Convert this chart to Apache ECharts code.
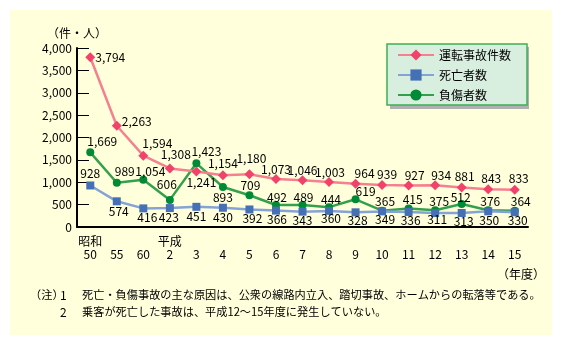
<!DOCTYPE html>
<html>
<head>
<meta charset="utf-8">
<script src="https://cdn.jsdelivr.net/npm/echarts@6/dist/echarts.min.js"></script>
<style>
html,body{margin:0;padding:0;background:#ffffff;}
#chart{width:562px;height:346px;}
</style>
</head>
<body>
<div id="chart"></div>
<script>
// ---- data ----
var xLabels = ['50','55','60','2','3','4','5','6','7','8','9','10','11','12','13','14','15'];
var eraLabels = ['昭和','','','平成','','','','','','','','','','','','',''];
var accidents = [3794,2263,1594,1308,1241,1154,1180,1073,1046,1003,964,939,927,934,881,843,833];
var deaths = [928,574,416,423,451,430,392,366,343,360,328,349,336,311,313,350,330];
var injuries = [1669,989,1054,606,1423,893,709,492,489,444,619,365,415,375,512,376,364];
var yTicks = {min:0, max:4000, interval:500};
var seriesNames = ['運転事故件数','死亡者数','負傷者数'];
var yName = '（件・人）';
var xName = '（年度）';
var note1 = '死亡・負傷事故の主な原因は、公衆の線路内立入、踏切事故、ホームからの転落等である。';
var note2 = '乗客が死亡した事故は、平成12～15年度に発生していない。';

// ---- label placement (style only) ----
var redPos = ['right','right','top','top','bottom','top','top','top','top','top','top','top','top','top','top','top','top'];
var redOff = [[0,0],[0,-4],[14,-1],[6,-3],[5,0],[0,-1],[2,-5],[0,1],[0,1],[1,1],[9,1],[5,0],[6,1],[6,1],[3,0],[3,0],[4,0]];
var greenPos = ['top','top','top','top','top','bottom','top','top','top','top','top','top','top','top','top','top','top'];
var greenOff = [[12,-1],[8,-1],[7,2],[-3,-5],[10,-2],[0,0],[1,0],[1,2],[1,2],[2,2],[10,2],[3,1],[4,1],[4,1],[-1,3],[2,1],[6,1]];
var bluePos = ['top','bottom','bottom','bottom','bottom','bottom','bottom','bottom','bottom','bottom','bottom','bottom','bottom','bottom','bottom','bottom','bottom'];
var blueOff = [[0,-2],[2,0],[4,-1],[-1,-1],[0,0],[0,0],[3,-1],[1,-1],[0,-1],[2,-2],[2,-2],[3,-2],[2,-2],[2,-4],[2,-2],[1,-1],[3,-2]];

var FONT = '"Noto Sans CJK JP", "Noto Sans", sans-serif';

function fmt(v){ return v.toLocaleString('en-US'); }
function build(values, pos, off){
  return values.map(function(v,i){
    return {value:v, label:{position:pos[i], offset:off[i]}};
  });
}

var chart = echarts.init(document.getElementById('chart'), null, {renderer:'canvas'});
var labelBase = {show:true, color:'#000', fontSize:12, fontFamily:FONT, distance:0,
  formatter:function(p){return fmt(p.value);}};

chart.setOption({
  backgroundColor:'#ffffff',
  animation:false,
  textStyle:{fontFamily:FONT},
  graphic:[
    {type:'rect', z:-10, shape:{x:10,y:10,width:542,height:325}, style:{fill:'#ffffdc'}, silent:true},
    {type:'rect', z:-5, shape:{x:390,y:47,width:139,height:62}, style:{fill:'#b0b0b0'}, silent:true},
    {type:'text', left:497, top:268, style:{text:xName, fontSize:12, fontFamily:FONT, fill:'#000'}},
    {type:'text', left:30, top:289, style:{text:'（注）', fontSize:11.2, fontFamily:FONT, fill:'#000'}},
    {type:'text', left:60, top:289, style:{text:'1', fontSize:12, fontFamily:FONT, fill:'#000'}},
    {type:'text', left:82, top:289, style:{text:note1, fontSize:11.2, fontFamily:FONT, fill:'#000'}},
    {type:'text', left:60, top:306, style:{text:'2', fontSize:12, fontFamily:FONT, fill:'#000'}},
    {type:'text', left:82, top:306, style:{text:note2, fontSize:11.2, fontFamily:FONT, fill:'#000'}}
  ],
  legend:{
    data:seriesNames,
    orient:'vertical',
    left:387, top:44,
    padding:[5,16,4,10],
    itemWidth:36, itemHeight:14, itemGap:8,
    backgroundColor:'#d8efdf',
    borderColor:'#3fae55', borderWidth:1.5,
    textStyle:{fontSize:12, color:'#000', fontFamily:FONT},
    selectedMode:false
  },
  grid:{left:77, right:34, top:48, bottom:119},
  xAxis:{
    type:'category', data:xLabels, boundaryGap:true,
    axisLine:{lineStyle:{color:'#000', width:2}},
    axisTick:{inside:true, alignWithLabel:true, length:7, lineStyle:{color:'#000', width:1}},
    axisLabel:{margin:8, color:'#000', interval:0,
      formatter:function(v,i){ return '{era|' + (eraLabels[i] || ' ') + '}\n{num|' + v + '}'; },
      rich:{era:{fontSize:12, lineHeight:13, fontFamily:FONT, color:'#000'},
            num:{fontSize:12, lineHeight:13, fontFamily:FONT, color:'#000'}}}
  },
  yAxis:{
    type:'value', min:yTicks.min, max:yTicks.max, interval:yTicks.interval,
    name:yName, nameLocation:'end', nameGap:9,
    nameTextStyle:{color:'#000', fontSize:12, fontFamily:FONT},
    axisLine:{show:true, lineStyle:{color:'#000', width:2}},
    axisTick:{show:true, inside:true, length:12, lineStyle:{color:'#000', width:1}},
    axisLabel:{margin:5, color:'#000', fontSize:12, fontFamily:FONT, formatter:function(v){return fmt(v);}},
    splitLine:{show:false}
  },
  series:[
    {name:seriesNames[2], type:'line', z:2, data:build(injuries, greenPos, greenOff),
     symbol:'circle', symbolSize:8,
     itemStyle:{color:'#008a35'}, lineStyle:{color:'#35a04c', width:2.5},
     label:labelBase},
    {name:seriesNames[1], type:'line', z:3, data:build(deaths, bluePos, blueOff),
     symbol:'rect', symbolSize:8,
     itemStyle:{color:'#4670b5'}, lineStyle:{color:'#86a3d6', width:2.5},
     label:labelBase},
    {name:seriesNames[0], type:'line', z:4, data:build(accidents, redPos, redOff),
     symbol:'diamond', symbolSize:10,
     itemStyle:{color:'#f2426b'}, lineStyle:{color:'#f5808f', width:2.5},
     label:labelBase}
  ]
});
</script>
</body>
</html>
